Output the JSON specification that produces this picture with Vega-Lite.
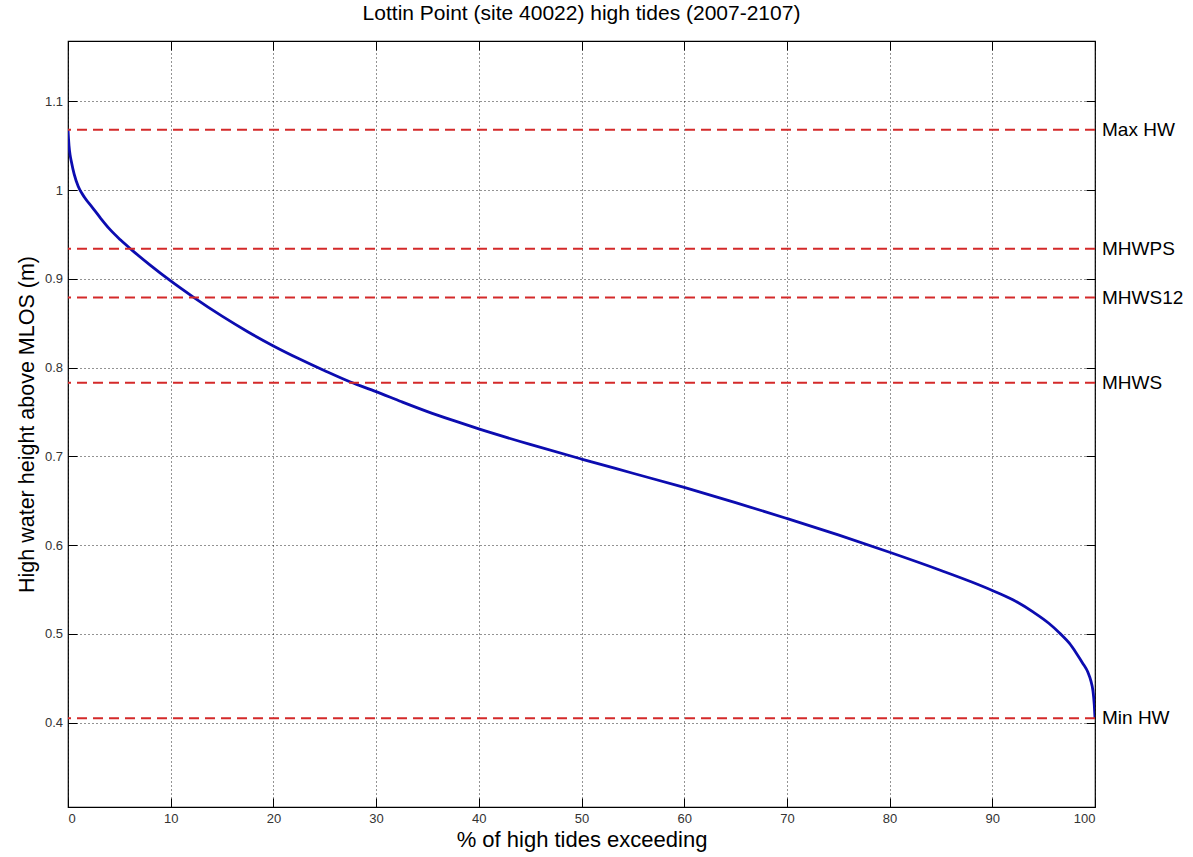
{
  "$schema": "https://vega.github.io/schema/vega-lite/v6.json",
  "autosize": {"type": "none"},
  "width": 1027,
  "height": 766,
  "padding": {"left": 68, "top": 41, "right": 98, "bottom": 50},
  "background": "white",
  "title": {
    "text": "Lottin Point (site 40022) high tides (2007-2107)",
    "font": "Liberation Sans",
    "fontSize": 21,
    "fontWeight": "normal",
    "color": "#000",
    "baseline": "alphabetic",
    "offset": 0,
    "anchor": "middle"
  },
  "config": {
    "view": {"stroke": "#000", "strokeWidth": 1.2},
    "font": "Liberation Sans"
  },
  "datasets": {
    "curve": [
      {"p": 0, "h": 1.068}, {"p": 0.05, "h": 1.058}, {"p": 0.1, "h": 1.05},
      {"p": 0.2, "h": 1.04}, {"p": 0.33, "h": 1.032}, {"p": 0.6, "h": 1.018},
      {"p": 1.0, "h": 1.004}, {"p": 1.6, "h": 0.992}, {"p": 2.4, "h": 0.98},
      {"p": 3.2, "h": 0.968}, {"p": 4.06, "h": 0.956}, {"p": 5.1, "h": 0.944},
      {"p": 6.17, "h": 0.933}, {"p": 8, "h": 0.9155}, {"p": 9.9, "h": 0.8985},
      {"p": 12.2, "h": 0.8795}, {"p": 15, "h": 0.858}, {"p": 17.5, "h": 0.8405},
      {"p": 20, "h": 0.8245}, {"p": 22.5, "h": 0.81}, {"p": 25, "h": 0.7965},
      {"p": 27.5, "h": 0.7838}, {"p": 30, "h": 0.773}, {"p": 32.5, "h": 0.7615},
      {"p": 35, "h": 0.7505}, {"p": 37.5, "h": 0.7405}, {"p": 40, "h": 0.731},
      {"p": 45, "h": 0.7135}, {"p": 50, "h": 0.697}, {"p": 55, "h": 0.681},
      {"p": 60, "h": 0.665}, {"p": 65, "h": 0.648}, {"p": 70, "h": 0.63},
      {"p": 75, "h": 0.6115}, {"p": 80, "h": 0.592}, {"p": 85, "h": 0.5715},
      {"p": 88, "h": 0.5585}, {"p": 90, "h": 0.549}, {"p": 92, "h": 0.5385},
      {"p": 94, "h": 0.5245}, {"p": 95.5, "h": 0.512}, {"p": 96.6, "h": 0.5005},
      {"p": 97.5, "h": 0.4895}, {"p": 98.2, "h": 0.478}, {"p": 98.8, "h": 0.467},
      {"p": 99.3, "h": 0.457}, {"p": 99.6, "h": 0.447}, {"p": 99.8, "h": 0.436},
      {"p": 99.93, "h": 0.42}, {"p": 100, "h": 0.405}
    ],
    "levels": [
      {"name": "Max HW", "h": 1.068},
      {"name": "MHWPS", "h": 0.934},
      {"name": "MHWS12", "h": 0.879},
      {"name": "MHWS", "h": 0.783},
      {"name": "Min HW", "h": 0.405}
    ]
  },
  "resolve": {"axis": {"x": "independent", "y": "independent"}},
  "layer": [
    {
      "data": {"name": "curve"},
      "mark": {"type": "line", "color": "#0c0cb0", "strokeWidth": 2.8, "clip": true, "interpolate": "monotone"},
      "encoding": {
        "x": {
          "field": "p", "type": "quantitative",
          "scale": {"domain": [0, 100], "nice": false, "zero": false},
          "axis": {
            "values": [0, 10, 20, 30, 40, 50, 60, 70, 80, 90, 100],
            "title": "% of high tides exceeding",
            "titleFont": "Liberation Sans", "titleFontSize": 22, "titleFontWeight": "normal",
            "titleColor": "#000", "titlePadding": 4,
            "labelFont": "Liberation Sans", "labelFontSize": 13, "labelColor": "#333",
            "labelPadding": 14,
            "domain": false,
            "ticks": true, "tickSize": -9, "tickColor": "#000", "tickWidth": 1,
            "grid": true, "gridColor": "#000", "gridDash": [1, 3], "gridOpacity": 0.85, "gridWidth": 1
          }
        },
        "y": {
          "field": "h", "type": "quantitative",
          "scale": {"domain": [0.305, 1.168], "nice": false, "zero": false},
          "axis": {
            "values": [0.4, 0.5, 0.6, 0.7, 0.8, 0.9, 1.0, 1.1],
            "format": "~g",
            "title": "High water height above MLOS (m)",
            "titleFont": "Liberation Sans", "titleFontSize": 21.5, "titleFontWeight": "normal",
            "titleColor": "#000", "titlePadding": 6,
            "labelFont": "Liberation Sans", "labelFontSize": 13, "labelColor": "#333",
            "labelPadding": 14.5,
            "domain": false,
            "ticks": true, "tickSize": -9, "tickColor": "#000", "tickWidth": 1,
            "grid": true, "gridColor": "#000", "gridDash": [1, 3], "gridOpacity": 0.85, "gridWidth": 1
          }
        }
      }
    },
    {
      "data": {"name": "levels"},
      "mark": {"type": "rule", "color": "#d42a2a", "strokeWidth": 2, "strokeDash": [10, 6]},
      "encoding": {
        "y": {"field": "h", "type": "quantitative", "axis": null}
      }
    },
    {
      "data": {"name": "levels"},
      "mark": {"type": "text", "align": "left", "baseline": "middle", "dx": 7, "fontSize": 19, "font": "Liberation Sans", "color": "#000"},
      "encoding": {
        "x": {"datum": 100, "type": "quantitative",
          "axis": {"orient": "top", "values": [0, 10, 20, 30, 40, 50, 60, 70, 80, 90, 100], "labels": false, "title": null, "domain": false, "grid": false, "ticks": true, "tickSize": -9, "tickColor": "#000"}},
        "y": {"field": "h", "type": "quantitative",
          "axis": {"orient": "right", "values": [0.4, 0.5, 0.6, 0.7, 0.8, 0.9, 1.0, 1.1], "labels": false, "title": null, "domain": false, "grid": false, "ticks": true, "tickSize": -9, "tickColor": "#000"}},
        "text": {"field": "name"}
      }
    }
  ]
}
